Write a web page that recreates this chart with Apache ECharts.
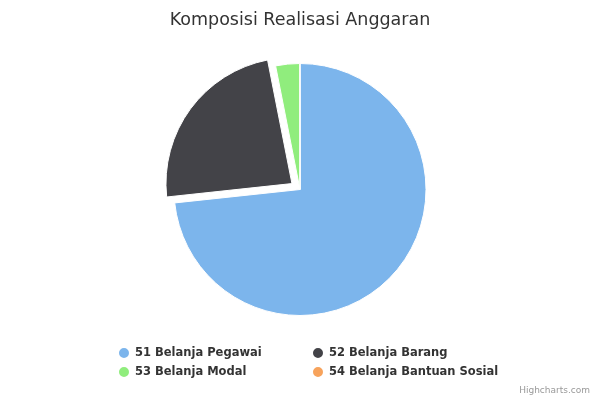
<!DOCTYPE html>
<html>
<head>
<meta charset="utf-8">
<script src="https://cdn.jsdelivr.net/npm/echarts@6/dist/echarts.min.js"></script>
<style>
html,body{margin:0;padding:0;background:#fff;}
#chart{width:600px;height:400px;}
</style>
</head>
<body>
<div id="chart"></div>
<script>
var categories = ['51 Belanja Pegawai', '52 Belanja Barang', '53 Belanja Modal', '54 Belanja Bantuan Sosial'];
var values = [73.3, 23.6, 3.08, 0.02];
var colors = ['#7cb5ec', '#434348', '#90ed7d', '#f7a35c'];
var slicedIndex = 1;
// legend columns, as laid out in the reference
var legendLeftCol = ['51 Belanja Pegawai', '53 Belanja Modal'];
var legendRightCol = ['52 Belanja Barang', '54 Belanja Bantuan Sosial'];

var chart = echarts.init(document.getElementById('chart'));

var pieData = [];
for (var i = 0; i < categories.length; i++) {
	pieData.push({
		name: categories[i],
		value: values[i],
		selected: i === slicedIndex,
		itemStyle: { color: colors[i] }
	});
}

function legendCol(left, names) {
	return {
		left: left,
		top: 346,
		padding: 0,
		orient: 'vertical',
		icon: 'circle',
		itemWidth: 12,
		itemHeight: 12,
		itemGap: 5,
		selectedMode: false,
		textStyle: {
			fontFamily: 'DejaVu Sans',
			fontSize: 11.5,
			fontWeight: 'bold',
			color: '#333',
			lineHeight: 12
		},
		data: names
	};
}

var option = {
	backgroundColor: '#fff',
	animation: false,
	title: {
		text: 'Komposisi Realisasi Anggaran',
		left: 'center',
		top: 6,
		textStyle: {
			fontFamily: 'DejaVu Sans',
			fontSize: 17.5,
			fontWeight: 'normal',
			color: '#333'
		}
	},
	legend: [legendCol(117, legendLeftCol), legendCol(311, legendRightCol)],
	graphic: [{
		type: 'text',
		right: 10,
		top: 386,
		style: {
			text: 'Highcharts.com',
			fill: '#999',
			font: '9px DejaVu Sans'
		}
	}],
	series: [{
		type: 'pie',
		center: [300, 189.5],
		radius: 126,
		startAngle: 90,
		clockwise: true,
		selectedMode: 'single',
		selectedOffset: 10,
		label: { show: false },
		labelLine: { show: false },
		itemStyle: { borderColor: '#fff', borderWidth: 1 },
		emphasis: { scale: false },
		data: pieData
	}]
};

chart.setOption(option);
</script>
</body>
</html>
